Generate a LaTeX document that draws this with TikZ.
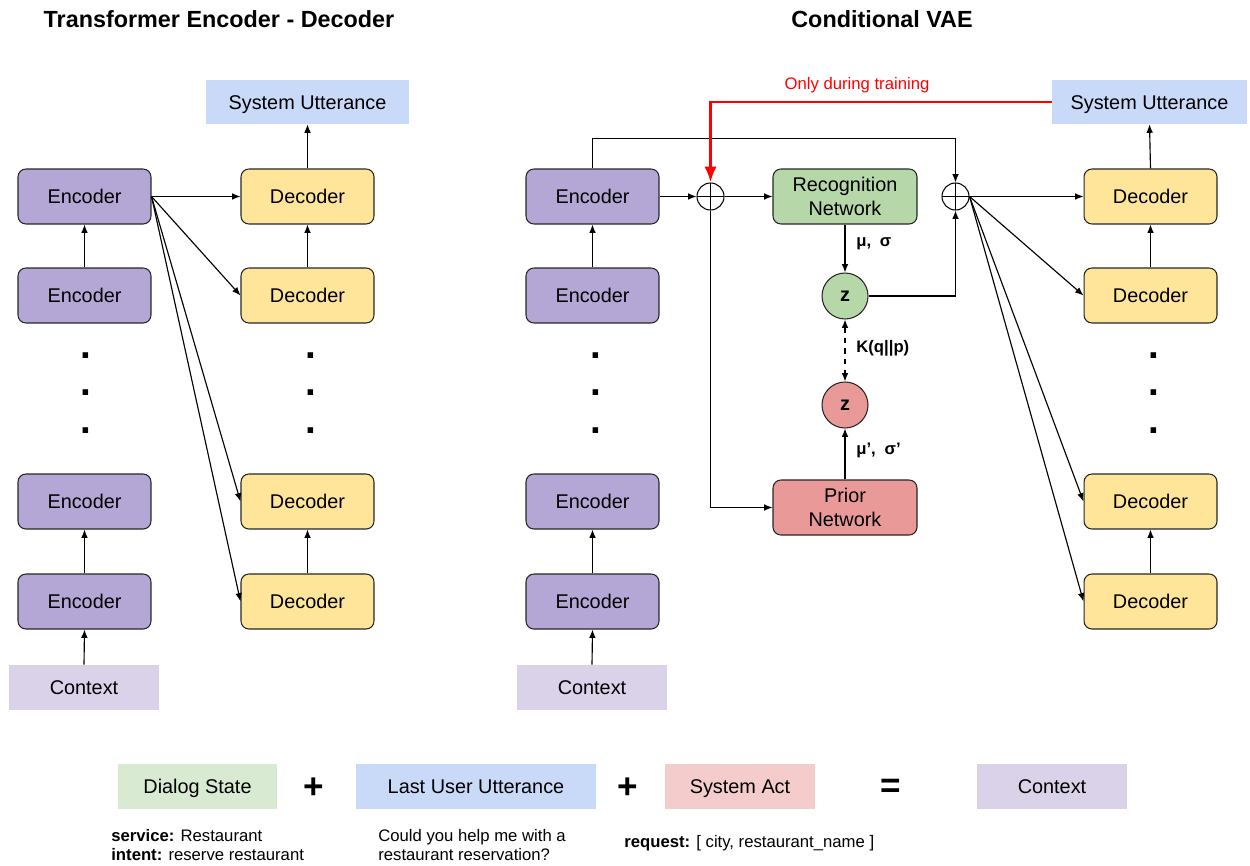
\documentclass[tikz,border=0pt]{standalone}
\usepackage{fontspec}
\setmainfont{Liberation Sans}
\usetikzlibrary{arrows.meta}
\definecolor{encfill}{HTML}{B4A7D6}
\definecolor{decfill}{HTML}{FFE599}
\definecolor{recfill}{HTML}{B6D7A8}
\definecolor{priorfill}{HTML}{EA9999}
\definecolor{sufill}{HTML}{C9DAF8}
\definecolor{ctxfill}{HTML}{D9D2E9}
\definecolor{dsfill}{HTML}{D9EAD3}
\definecolor{safill}{HTML}{F4CCCC}
\definecolor{redline}{HTML}{FF0000}
\begin{document}
\begin{tikzpicture}[x=0.02cm,y=-0.02cm,
  font=\fontsize{11.3}{13.6}\selectfont,
  basebox/.style={draw=black!85, line width=0.6pt, rounded corners=4.5pt, minimum width=2.66cm, minimum height=1.1cm, inner sep=0pt, align=center},
  oneline/.style={text height=10pt, text depth=1.9pt},
  encbox/.style={basebox, oneline, fill=encfill},
  decbox/.style={basebox, oneline, fill=decfill},
  netbox/.style={basebox, minimum width=2.88cm},
  flat/.style={inner sep=0pt, minimum height=0.9cm, align=center, oneline},
  zcirc/.style={circle, draw=black!85, line width=0.6pt, minimum size=0.92cm, inner sep=0pt, font=\bfseries\fontsize{11.3}{13.6}\selectfont},
  oplus/.style={circle, draw=black, line width=0.6pt, minimum size=0.54cm, inner sep=0pt,
    path picture={\draw[line width=0.6pt] (path picture bounding box.north) -- (path picture bounding box.south) (path picture bounding box.west) -- (path picture bounding box.east);}},
  arr/.style={line width=0.65pt, -{Latex[length=4.8pt,width=3.8pt]}},
  arrboth/.style={line width=0.65pt, {Latex[length=4.8pt,width=3.8pt]}-{Latex[length=4.8pt,width=3.8pt]}},
  redarr/.style={line width=1.7pt, draw=redline, -{Latex[length=9pt,width=7pt]}},
  dotmark/.style={anchor=base, inner sep=0pt, font=\bfseries\fontsize{22}{22}\selectfont},
  title/.style={font=\bfseries\fontsize{13.3}{16}\selectfont},
  lbl/.style={anchor=west, inner sep=0pt, font=\bfseries\fontsize{9.5}{11.4}\selectfont},
  small/.style={inner sep=0pt, align=left, font=\fontsize{9.5}{10.8}\selectfont},
  op/.style={font=\bfseries\fontsize{20}{20}\selectfont, inner sep=0pt}
]
\useasboundingbox (0,0) rectangle (1250,865);

% ---------------- Left: Transformer Encoder - Decoder ----------------
\node[title] (t1) at (219,19) {Transformer Encoder - Decoder};

\node[encbox] (e1) at (84.5,196.5) {Encoder};
\node[encbox] (e2) at (84.5,295.5) {Encoder};
\node[encbox] (e3) at (84.5,501.5) {Encoder};
\node[encbox] (e4) at (84.5,601.5) {Encoder};
\node[flat, fill=ctxfill, minimum width=3.0cm] (ctx1) at (84,687.5) {Context};

\node[decbox] (d1) at (307.5,196.5) {Decoder};
\node[decbox] (d2) at (307.5,295.5) {Decoder};
\node[decbox] (d3) at (307.5,501.5) {Decoder};
\node[decbox] (d4) at (307.5,601.5) {Decoder};
\node[flat, fill=sufill, minimum width=4.06cm, minimum height=0.88cm] (su1) at (307.5,102) {System Utterance};

\node[dotmark] (ld1) at (86,358) {.};
\node[dotmark] (ld2) at (86,395) {.};
\node[dotmark] (ld3) at (86,433) {.};
\node[dotmark] (ld4) at (311,358) {.};
\node[dotmark] (ld5) at (311,395) {.};
\node[dotmark] (ld6) at (311,433) {.};

\draw[arr] (ctx1.north) -- (e4.south);
\draw[arr] (e4.north) -- (e3.south);
\draw[arr] (e2.north) -- (e1.south);
\draw[arr] (d4.north) -- (d3.south);
\draw[arr] (d2.north) -- (d1.south);
\draw[arr] (d1.north) -- (su1.south);
\draw[arr] (e1.east) -- (d1.west);
\draw[arr] (e1.east) -- (d2.west);
\draw[arr] (e1.east) -- (d3.west);
\draw[arr] (e1.east) -- (d4.west);

% ---------------- Right: Conditional VAE ----------------
\node[title] (t2) at (882,19) {Conditional VAE};

\node[encbox] (E1) at (592.5,196.5) {Encoder};
\node[encbox] (E2) at (592.5,295.5) {Encoder};
\node[encbox] (E3) at (592.5,501.5) {Encoder};
\node[encbox] (E4) at (592.5,601.5) {Encoder};
\node[flat, fill=ctxfill, minimum width=3.0cm] (ctx2) at (592,687.5) {Context};

\node[dotmark] (rd1) at (596,358) {.};
\node[dotmark] (rd2) at (596,395) {.};
\node[dotmark] (rd3) at (596,433) {.};

\node[oplus] (p1) at (710.5,196.5) {};
\node[oplus] (p2) at (955.5,196.5) {};

\node[netbox, fill=recfill] (rec) at (845,196.5) {Recognition\\Network};
\node[netbox, fill=priorfill] (prior) at (845,507.5) {Prior\\Network};
\node[zcirc, fill=recfill] (zg) at (845,296) {z};
\node[zcirc, fill=priorfill] (zr) at (845,405) {z};

\node[lbl] (l1) at (856,244) {μ,\hspace{5pt}σ};
\node[lbl] (l2) at (856,348) {K(q||p)};
\node[lbl] (l3) at (856,450) {μ’,\hspace{5pt}σ’};

\node[decbox] (D1) at (1150.5,196.5) {Decoder};
\node[decbox] (D2) at (1150.5,295.5) {Decoder};
\node[decbox] (D3) at (1150.5,501.5) {Decoder};
\node[decbox] (D4) at (1150.5,601.5) {Decoder};
\node[flat, fill=sufill, minimum width=3.9cm, minimum height=0.88cm] (su2) at (1149.5,102) {System Utterance};

\node[dotmark] (rd4) at (1154,358) {.};
\node[dotmark] (rd5) at (1154,395) {.};
\node[dotmark] (rd6) at (1154,433) {.};

\node[inner sep=0pt, text=redline, font=\fontsize{9.5}{11.4}\selectfont] (train) at (857,85) {Only during training};

\draw[arr] (ctx2.north) -- (E4.south);
\draw[arr] (E4.north) -- (E3.south);
\draw[arr] (E2.north) -- (E1.south);
\draw[arr] (E1.east) -- (p1.west);
\draw[arr] (p1.east) -- (rec.west);
\draw[arr] (E1.north) -- ++(0,-30) -| (p2.north);
\draw[arr] (rec.south) -- (zg.north);
\draw[arr] (zg.east) -| (p2.south);
\draw[arrboth, dashed] (zg.south) -- (zr.north);
\draw[arr] (prior.north) -- (zr.south);
\draw[arr] (p1.south) |- (prior.west);
\draw[redarr] (su2.west) -| (p1.north);

\draw[arr] (p2.east) -- (D1.west);
\draw[arr] (p2.east) -- (D2.west);
\draw[arr] (p2.east) -- (D3.west);
\draw[arr] (p2.east) -- (D4.west);
\draw[arr] (D4.north) -- (D3.south);
\draw[arr] (D2.north) -- (D1.south);
\draw[arr] (D1.north) -- (su2.south);

% ---------------- Bottom legend ----------------
\node[flat, fill=dsfill, minimum width=3.18cm] (ds) at (197.5,786.5) {Dialog State};
\node[op] (plus1) at (314,788) {+};
\node[flat, fill=sufill, minimum width=4.8cm] (lu) at (476,786.5) {Last User Utterance};
\node[op] (plus2) at (628,788) {+};
\node[flat, fill=safill, minimum width=3.0cm] (sa) at (740,786.5) {System Act};
\node[op] (eq) at (891,788) {=};
\node[flat, fill=ctxfill, minimum width=3.0cm] (ctx3) at (1052,786.5) {Context};

\node[small, anchor=west] (dstxt) at (111,845) {\textbf{service:} Restaurant\\\textbf{intent:} reserve restaurant};
\node[small, anchor=west] (lutxt) at (378,845) {Could you help me with a\\restaurant reservation?};
\node[small, anchor=west] (satxt) at (624,843) {\textbf{request:} [ city, restaurant\_name ]};
\end{tikzpicture}
\end{document}
